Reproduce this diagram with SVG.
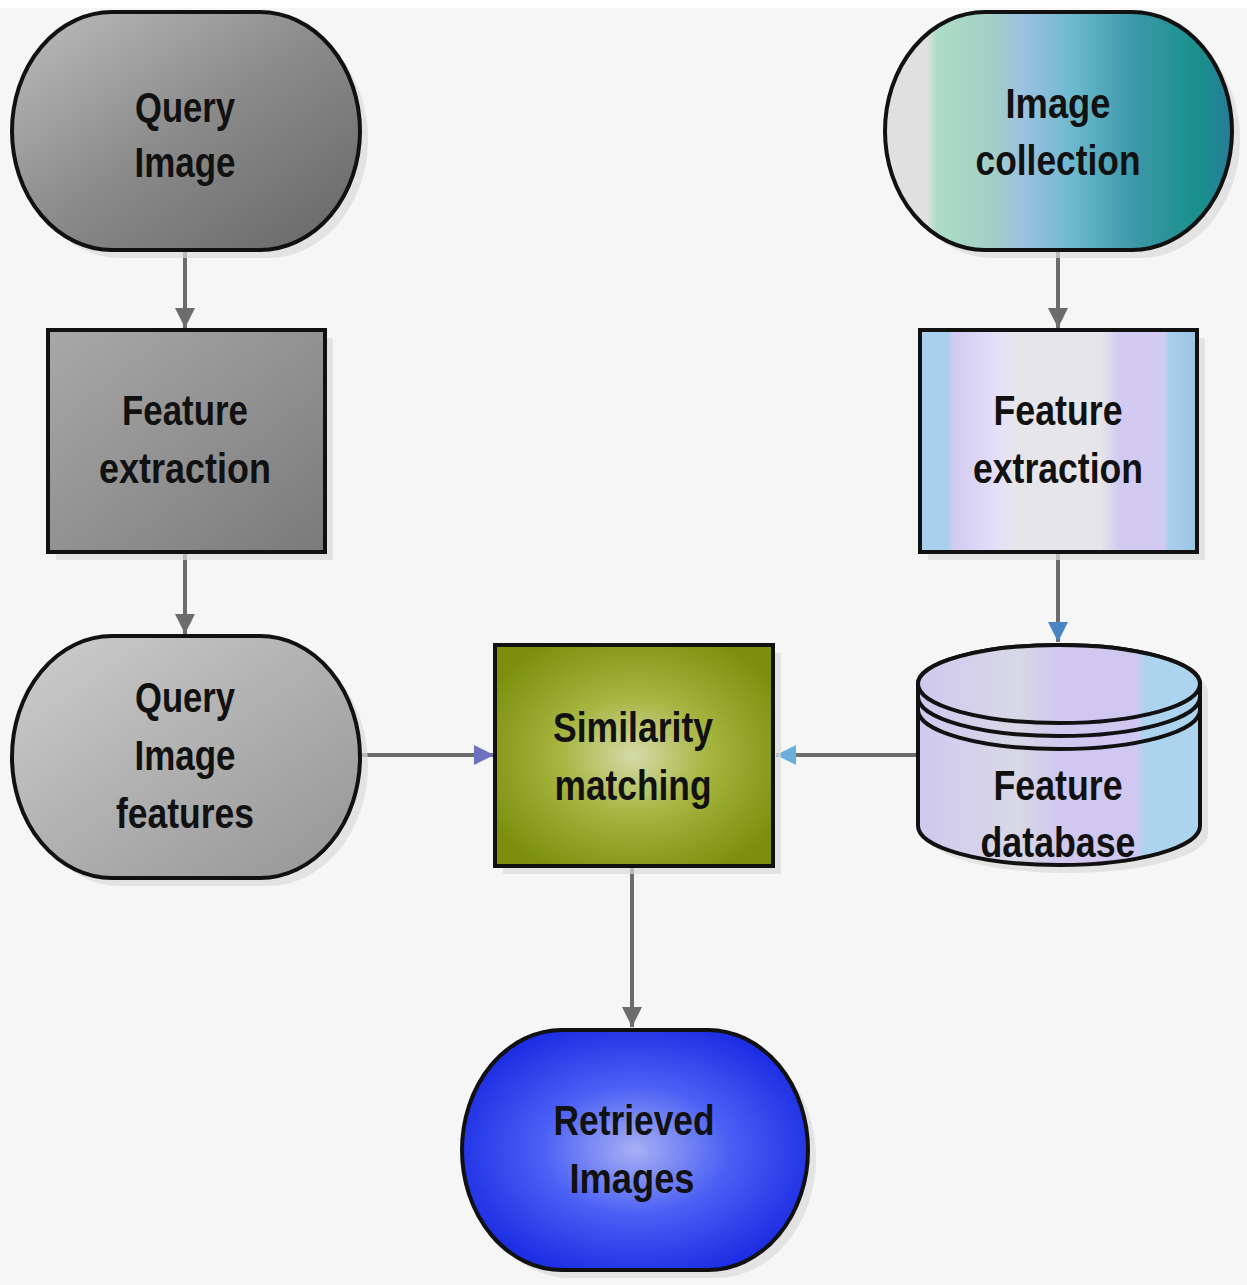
<svg xmlns="http://www.w3.org/2000/svg" width="1247" height="1285" viewBox="0 0 1247 1285">
<defs>
<style>
.node{stroke:#111;stroke-width:4}
.lbl{font-family:"Liberation Sans",Arial,sans-serif;font-weight:bold;font-size:42px;fill:#111;text-anchor:middle}
.conn{stroke:#6c6c6c;stroke-width:4;fill:none}
.shadow{fill:#dcdcdc;opacity:0.7}
</style>
<linearGradient id="gQ" x1="0" y1="0" x2="1" y2="1">
<stop offset="0" stop-color="#bdbdbd"/><stop offset="0.5" stop-color="#8a8a8a"/><stop offset="1" stop-color="#666"/>
</linearGradient>
<linearGradient id="gFL" x1="0" y1="0" x2="1" y2="1">
<stop offset="0" stop-color="#a8a8a8"/><stop offset="0.5" stop-color="#929292"/><stop offset="1" stop-color="#7a7a7a"/>
</linearGradient>
<linearGradient id="gQF" x1="0" y1="0" x2="1" y2="1">
<stop offset="0" stop-color="#cecece"/><stop offset="0.5" stop-color="#b0b0b0"/><stop offset="1" stop-color="#959595"/>
</linearGradient>
<radialGradient id="gS" cx="0.5" cy="0.5" r="0.6">
<stop offset="0" stop-color="#d4dba8"/><stop offset="0.45" stop-color="#a6b540"/><stop offset="1" stop-color="#7b8f0c"/>
</radialGradient>
<radialGradient id="gR" cx="0.5" cy="0.5" r="0.6">
<stop offset="0" stop-color="#a8b0f4"/><stop offset="0.45" stop-color="#4a60f4"/><stop offset="1" stop-color="#1424e0"/>
</radialGradient>
<linearGradient id="gIC" x1="0" y1="0" x2="1" y2="0">
<stop offset="0" stop-color="#e0e0e0"/><stop offset="0.12" stop-color="#e0e0e0"/><stop offset="0.15" stop-color="#acdcc8"/><stop offset="0.3" stop-color="#a4d0c4"/><stop offset="0.4" stop-color="#9cc0e0"/><stop offset="0.55" stop-color="#6ab8cc"/><stop offset="0.72" stop-color="#3c98a8"/><stop offset="0.9" stop-color="#18908c"/><stop offset="1" stop-color="#287c98"/>
</linearGradient>
<linearGradient id="gFR" x1="0" y1="0" x2="1" y2="0">
<stop offset="0" stop-color="#a8d0ec"/><stop offset="0.1" stop-color="#a8d0ec"/><stop offset="0.12" stop-color="#d2caf0"/><stop offset="0.28" stop-color="#e4e0f8"/><stop offset="0.35" stop-color="#e6e6ea"/><stop offset="0.65" stop-color="#e6e6ea"/><stop offset="0.72" stop-color="#d2caf0"/><stop offset="0.88" stop-color="#d2caf0"/><stop offset="0.9" stop-color="#a8d0ec"/><stop offset="1" stop-color="#9cc4e0"/>
</linearGradient>
<linearGradient id="gDB" x1="0" y1="0" x2="1" y2="0">
<stop offset="0" stop-color="#d0c8f0"/><stop offset="0.35" stop-color="#d8d8e6"/><stop offset="0.5" stop-color="#d0c8f0"/><stop offset="0.78" stop-color="#d0c8f0"/><stop offset="0.8" stop-color="#acd4ee"/><stop offset="1" stop-color="#acd4ee"/>
</linearGradient>
<marker id="aGray" viewBox="0 0 10 10" refX="10" refY="5" markerWidth="5" markerHeight="5" orient="auto" markerUnits="strokeWidth"><path d="M0,0 L10,5 L0,10 z" fill="#6c6c6c"/></marker>
<marker id="aPurple" viewBox="0 0 10 10" refX="10" refY="5" markerWidth="5" markerHeight="5" orient="auto" markerUnits="strokeWidth"><path d="M0,0 L10,5 L0,10 z" fill="#7070c0"/></marker>
<marker id="aLight" viewBox="0 0 10 10" refX="10" refY="5" markerWidth="5" markerHeight="5" orient="auto" markerUnits="strokeWidth"><path d="M0,0 L10,5 L0,10 z" fill="#6aaedc"/></marker>
<marker id="aBlue" viewBox="0 0 10 10" refX="10" refY="5" markerWidth="5" markerHeight="5" orient="auto" markerUnits="strokeWidth"><path d="M0,0 L10,5 L0,10 z" fill="#4a84c4"/></marker>
</defs>
<rect x="0" y="0" width="1247" height="1285" fill="#f6f6f6"/>
<rect x="0" y="0" width="1247" height="8" fill="#ffffff"/>

<g id="connectors">
<line class="conn" x1="185" y1="252" x2="185" y2="328" marker-end="url(#aGray)"/>
<line class="conn" x1="185" y1="553" x2="185" y2="634" marker-end="url(#aGray)"/>
<line class="conn" x1="361" y1="755" x2="494" y2="755" marker-end="url(#aPurple)"/>
<line class="conn" x1="918" y1="755" x2="776" y2="755" marker-end="url(#aLight)"/>
<line class="conn" x1="632" y1="867" x2="632" y2="1027" marker-end="url(#aGray)"/>
<line class="conn" x1="1058" y1="252" x2="1058" y2="328" marker-end="url(#aGray)"/>
<line class="conn" x1="1058" y1="553" x2="1058" y2="642" marker-end="url(#aBlue)"/>
</g>

<g id="query-image">
<rect class="shadow" x="20" y="20" width="348" height="238" rx="100" ry="119"/>
<rect class="node" x="12" y="12" width="348" height="238" rx="100" ry="119" fill="url(#gQ)"/>
<text class="lbl" x="185" y="122" textLength="100" lengthAdjust="spacingAndGlyphs">Query</text>
<text class="lbl" x="185" y="177" textLength="101" lengthAdjust="spacingAndGlyphs">Image</text>
</g>

<g id="feature-extraction-left">
<rect class="shadow" x="56" y="338" width="277" height="222"/>
<rect class="node" x="48" y="330" width="277" height="222" fill="url(#gFL)"/>
<text class="lbl" x="185" y="425" textLength="126" lengthAdjust="spacingAndGlyphs">Feature</text>
<text class="lbl" x="185" y="483" textLength="172" lengthAdjust="spacingAndGlyphs">extraction</text>
</g>

<g id="query-image-features">
<rect class="shadow" x="20" y="644" width="348" height="242" rx="100" ry="121"/>
<rect class="node" x="12" y="636" width="348" height="242" rx="100" ry="121" fill="url(#gQF)"/>
<text class="lbl" x="185" y="712" textLength="100" lengthAdjust="spacingAndGlyphs">Query</text>
<text class="lbl" x="185" y="770" textLength="101" lengthAdjust="spacingAndGlyphs">Image</text>
<text class="lbl" x="185" y="828" textLength="138" lengthAdjust="spacingAndGlyphs">features</text>
</g>

<g id="similarity-matching">
<rect class="shadow" x="503" y="653" width="278" height="221"/>
<rect class="node" x="495" y="645" width="278" height="221" fill="url(#gS)"/>
<text class="lbl" x="633" y="742" textLength="160" lengthAdjust="spacingAndGlyphs">Similarity</text>
<text class="lbl" x="633" y="800" textLength="157" lengthAdjust="spacingAndGlyphs">matching</text>
</g>

<g id="retrieved-images">
<rect class="shadow" x="470" y="1038" width="346" height="240" rx="100" ry="120"/>
<rect class="node" x="462" y="1030" width="346" height="240" rx="100" ry="120" fill="url(#gR)"/>
<text class="lbl" x="634" y="1135" textLength="161" lengthAdjust="spacingAndGlyphs">Retrieved</text>
<text class="lbl" x="632" y="1193" textLength="125" lengthAdjust="spacingAndGlyphs">Images</text>
</g>

<g id="image-collection">
<rect class="shadow" x="893" y="20" width="347" height="238" rx="100" ry="119"/>
<rect class="node" x="885" y="12" width="347" height="238" rx="100" ry="119" fill="url(#gIC)"/>
<text class="lbl" x="1058" y="118" textLength="105" lengthAdjust="spacingAndGlyphs">Image</text>
<text class="lbl" x="1058" y="175" textLength="165" lengthAdjust="spacingAndGlyphs">collection</text>
</g>

<g id="feature-extraction-right">
<rect class="shadow" x="928" y="338" width="277" height="222"/>
<rect class="node" x="920" y="330" width="277" height="222" fill="url(#gFR)"/>
<text class="lbl" x="1058" y="425" textLength="129" lengthAdjust="spacingAndGlyphs">Feature</text>
<text class="lbl" x="1058" y="483" textLength="170" lengthAdjust="spacingAndGlyphs">extraction</text>
</g>

<g id="feature-database">
<path class="shadow" d="M926,692 L926,834 A141,39 0 0 0 1208,834 L1208,692 A141,39 0 0 0 926,692 z"/>
<path class="node" d="M918,684 L918,826 A141,39 0 0 0 1200,826 L1200,684 A141,39 0 0 0 918,684 z" fill="url(#gDB)"/>
<ellipse class="node" cx="1059" cy="684" rx="141" ry="39" fill="url(#gDB)"/>
<path class="node" d="M918,697 A141,39 0 0 0 1200,697" fill="none"/>
<path class="node" d="M918,710 A141,39 0 0 0 1200,710" fill="none"/>
<text class="lbl" x="1058" y="800" textLength="129" lengthAdjust="spacingAndGlyphs">Feature</text>
<text class="lbl" x="1058" y="857" textLength="155" lengthAdjust="spacingAndGlyphs">database</text>
</g>
</svg>
